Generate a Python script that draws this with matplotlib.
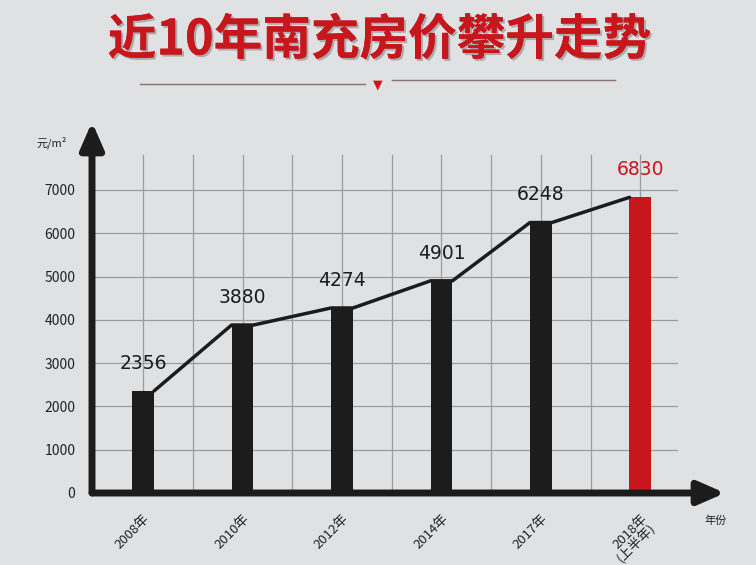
import matplotlib.pyplot as plt
import matplotlib.patheffects as pe
import numpy as np

plt.rcParams['font.family'] = ['Noto Sans CJK SC', 'DejaVu Sans']

years = ["2008年", "2010年", "2012年", "2014年", "2017年", "2018年\n(上半年)"]
prices = [2356, 3880, 4274, 4901, 6248, 6830]
yticks = [0, 1000, 2000, 3000, 4000, 5000, 6000, 7000]

bg = "#dfe1e3"
red = "#c8161d"
dark = "#1c1c1c"

fig = plt.figure(figsize=(7.56, 5.65), dpi=100, facecolor=bg)
ax = fig.add_axes([92/756, 1-493/565, (725-92)/756, (493-122)/565])
ax.set_facecolor(bg)

x = np.arange(len(prices))
w = 0.22
ax.set_xlim(-0.513, 5.85)
ax.set_ylim(0, 8570)

# grid
for gx in np.arange(0, 5.01, 0.5):
    ax.plot([gx, gx], [0, 7800], color="#9a9c9e", lw=0.9, zorder=1)
for gy in yticks[1:]:
    ax.plot([-0.513, 5.37], [gy, gy], color="#9a9c9e", lw=0.9, zorder=1)

colors = [dark] * (len(prices) - 1) + [red]
ax.bar(x, prices, width=w, color=colors, zorder=3)

# trend line: from the top-right of one bar to the top-left of the next
lx, ly = [], []
for i in range(len(prices) - 1):
    lx += [x[i] + w/2, x[i+1] - w/2]
    ly += [prices[i], prices[i+1]]
ax.plot(lx, ly, color=dark, lw=2.5, zorder=4, solid_capstyle="round")

for xi, p, c in zip(x, prices, colors):
    ax.text(xi, p + 420, str(p), ha="center", va="bottom", fontsize=13.5,
            color=c, family="DejaVu Sans")

# axes arrows
ax.annotate("", xy=(0, 1), xytext=(0, 0), xycoords="axes fraction",
            arrowprops=dict(arrowstyle="-|>,head_length=1.6,head_width=0.7",
                            lw=5, color=dark, shrinkA=0, shrinkB=0), zorder=5)
ax.annotate("", xy=(1, 0), xytext=(0, 0), xycoords="axes fraction",
            arrowprops=dict(arrowstyle="-|>,head_length=1.6,head_width=0.7",
                            lw=5, color=dark, shrinkA=0, shrinkB=0), zorder=5)

for s in ax.spines.values():
    s.set_visible(False)
ax.set_yticks(yticks)
ax.set_yticklabels([str(t) for t in yticks], fontsize=10, color="#222222")
ax.tick_params(axis="y", length=0, pad=12)
ax.set_xticks(x)
ax.set_xticklabels(years, rotation=45, ha="right", rotation_mode="anchor",
                   fontsize=9.5, color="#222222", linespacing=0.9)
ax.tick_params(axis="x", length=0, pad=14)

ax.text(-0.04, 0.943, "元/m²", transform=ax.transAxes, ha="right", va="center",
        fontsize=8, color="#222222")
ax.text(0.985, -0.075, "年份", transform=ax.transAxes, ha="center", va="center",
        fontsize=8, color="#222222")

# title
fig.text(0.502, 1-40/565, "近10年南充房价攀升走势", ha="center", va="center",
         fontsize=35, fontweight="bold", color=red,
         path_effects=[pe.withSimplePatchShadow(offset=(1.5, -1.5), shadow_rgbFace="#6a6a6a", alpha=0.45),
                       pe.Normal()])
fig.add_artist(plt.Line2D([140/756, 365/756], [1-84/565, 1-84/565], color="#8a7070", lw=1))
fig.add_artist(plt.Line2D([392/756, 615/756], [1-80/565, 1-80/565], color="#8a7070", lw=1))
fig.text(378/756, 1-85/565, "▼", ha="center", va="center", fontsize=9, color=red,
         family="DejaVu Sans")

fig.savefig("out.png", dpi=100, facecolor=bg)
